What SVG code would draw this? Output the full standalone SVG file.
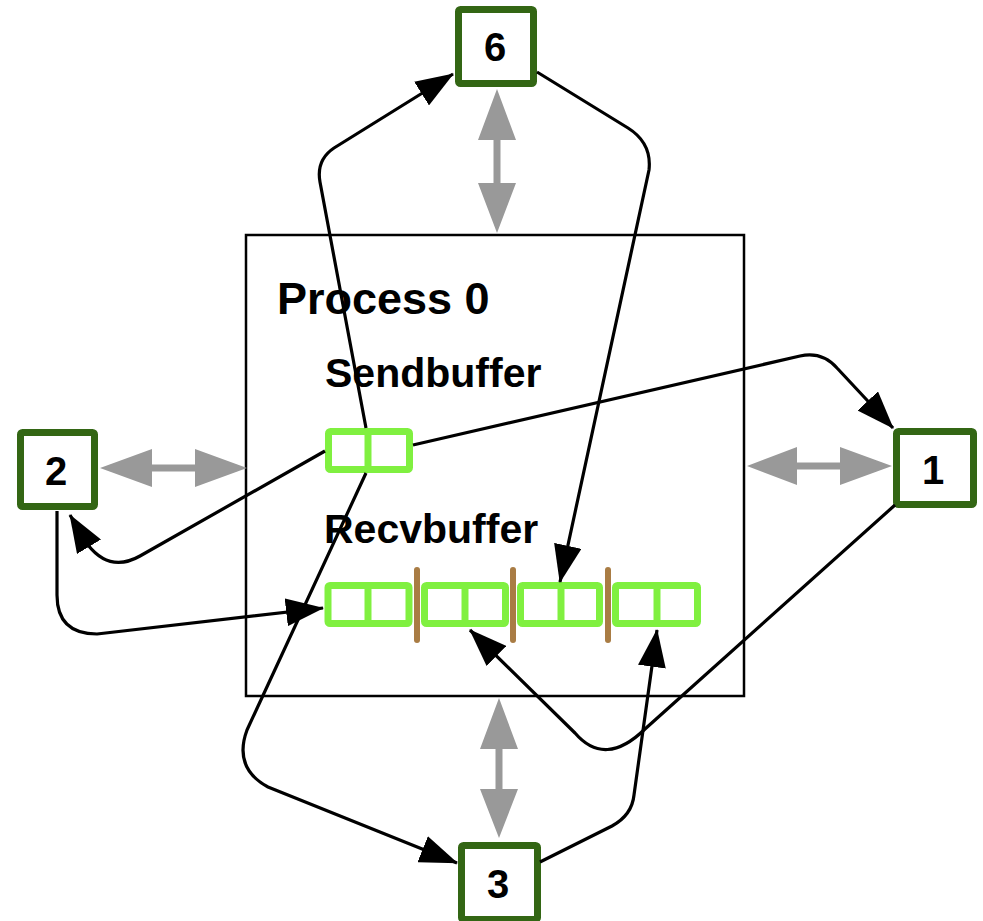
<svg xmlns="http://www.w3.org/2000/svg" width="983" height="921" viewBox="0 0 983 921">
<defs>
<style>
.node{fill:#fff;stroke:#336614;stroke-width:7}
.lbl{font-family:"Liberation Sans",Arial,sans-serif;font-weight:bold;fill:#000}
.num{font-size:40px;text-anchor:middle}
.buf{fill:#fff;stroke:#80F040;stroke-width:7}
.div{stroke:#80F040;stroke-width:7}
.sep{stroke:#A97C44;stroke-width:6;stroke-linecap:round}
.conn{fill:none;stroke:#000;stroke-width:3.2;stroke-linejoin:round}
.gray{fill:#999}
</style>
<marker id="ah" viewBox="0 0 38 28" refX="37" refY="14" markerWidth="38" markerHeight="28" markerUnits="userSpaceOnUse" orient="auto">
<path d="M0,0 L38,14 L0,28 Z" fill="#000"/>
</marker>
</defs>
<rect width="983" height="921" fill="#fff"/>

<g id="process0">
<rect x="246" y="235" width="498" height="461" fill="#fff" stroke="#000" stroke-width="2.5"/>
<text class="lbl" x="277" y="314" font-size="45">Process 0</text>
</g>

<g id="sendbuffer">
<text class="lbl" x="325" y="387" font-size="41">Sendbuffer</text>
<rect class="buf" x="328.5" y="431.5" width="81" height="38" rx="2"/>
<line class="div" x1="368" y1="431.5" x2="368" y2="469.5"/>
</g>

<g id="recvbuffer">
<text class="lbl" x="324" y="543" font-size="41">Recvbuffer</text>
<rect class="buf" x="328" y="585.5" width="81" height="38" rx="2"/>
<line class="div" x1="368" y1="585.5" x2="368" y2="623.5"/>
<rect class="buf" x="424.5" y="585.5" width="81" height="38" rx="2"/>
<line class="div" x1="465" y1="585.5" x2="465" y2="623.5"/>
<rect class="buf" x="520.5" y="585.5" width="79" height="38" rx="2"/>
<line class="div" x1="561" y1="585.5" x2="561" y2="623.5"/>
<rect class="buf" x="615.5" y="585.5" width="82" height="38" rx="2"/>
<line class="div" x1="657" y1="585.5" x2="657" y2="623.5"/>
<line class="sep" x1="417" y1="570" x2="417" y2="640"/>
<line class="sep" x1="513" y1="570" x2="513" y2="640"/>
<line class="sep" x1="608" y1="570" x2="608" y2="640"/>
</g>

<g id="node6">
<rect class="node" x="458.5" y="9.5" width="75" height="74" rx="2"/>
<text class="lbl num" x="495" y="61">6</text>
</g>
<g id="node2">
<rect class="node" x="20.5" y="432.5" width="74" height="74" rx="2"/>
<text class="lbl num" x="56" y="485">2</text>
</g>
<g id="node1">
<rect class="node" x="896.5" y="431.5" width="77" height="73" rx="2"/>
<text class="lbl num" x="933" y="484">1</text>
</g>
<g id="node3">
<rect class="node" x="461.5" y="845.5" width="76" height="74" rx="2"/>
<text class="lbl num" x="498" y="898">3</text>
</g>

<g id="connectors">
<polygon class="gray" points="497,89 516,140 500.5,140 500.5,183 516,183 497,233 478,183 493.5,183 493.5,140 478,140"/>
<polygon class="gray" points="499,698 518,749 502.5,749 502.5,789 518,789 499,838 480,789 495.5,789 495.5,749 480,749"/>
<polygon class="gray" points="100,468 152,449 152,464.5 195,464.5 195,449 247,468 195,487 195,471.5 152,471.5 152,487"/>
<polygon class="gray" points="747,466 797,447 797,462.5 840,462.5 840,447 892,466 840,485 840,469.5 797,469.5 797,485"/>

<path class="conn" d="M366,428 L320,182 Q316,160 334,148 L453,74" marker-end="url(#ah)"/>
<path class="conn" d="M366,473 L247,730 Q233,768 268,787 L457,863" marker-end="url(#ah)"/>
<path class="conn" d="M413,445 L800,356 Q822,351 837,368 L893,428" marker-end="url(#ah)"/>
<path class="conn" d="M325,451 L140,556 Q110,573 88,545 L70,515" marker-end="url(#ah)"/>
<path class="conn" d="M57,511 L57,595 Q57,634 97,634 L323,608" marker-end="url(#ah)"/>
<path class="conn" d="M537,72 L628,128 Q652,143 649,170 L560,582" marker-end="url(#ah)"/>
<path class="conn" d="M895,505 L645,729 Q605,768 575,733 L470,630" marker-end="url(#ah)"/>
<path class="conn" d="M540,862 L612,826 Q632,815 634,795 L657,630" marker-end="url(#ah)"/>
</g>
</svg>
